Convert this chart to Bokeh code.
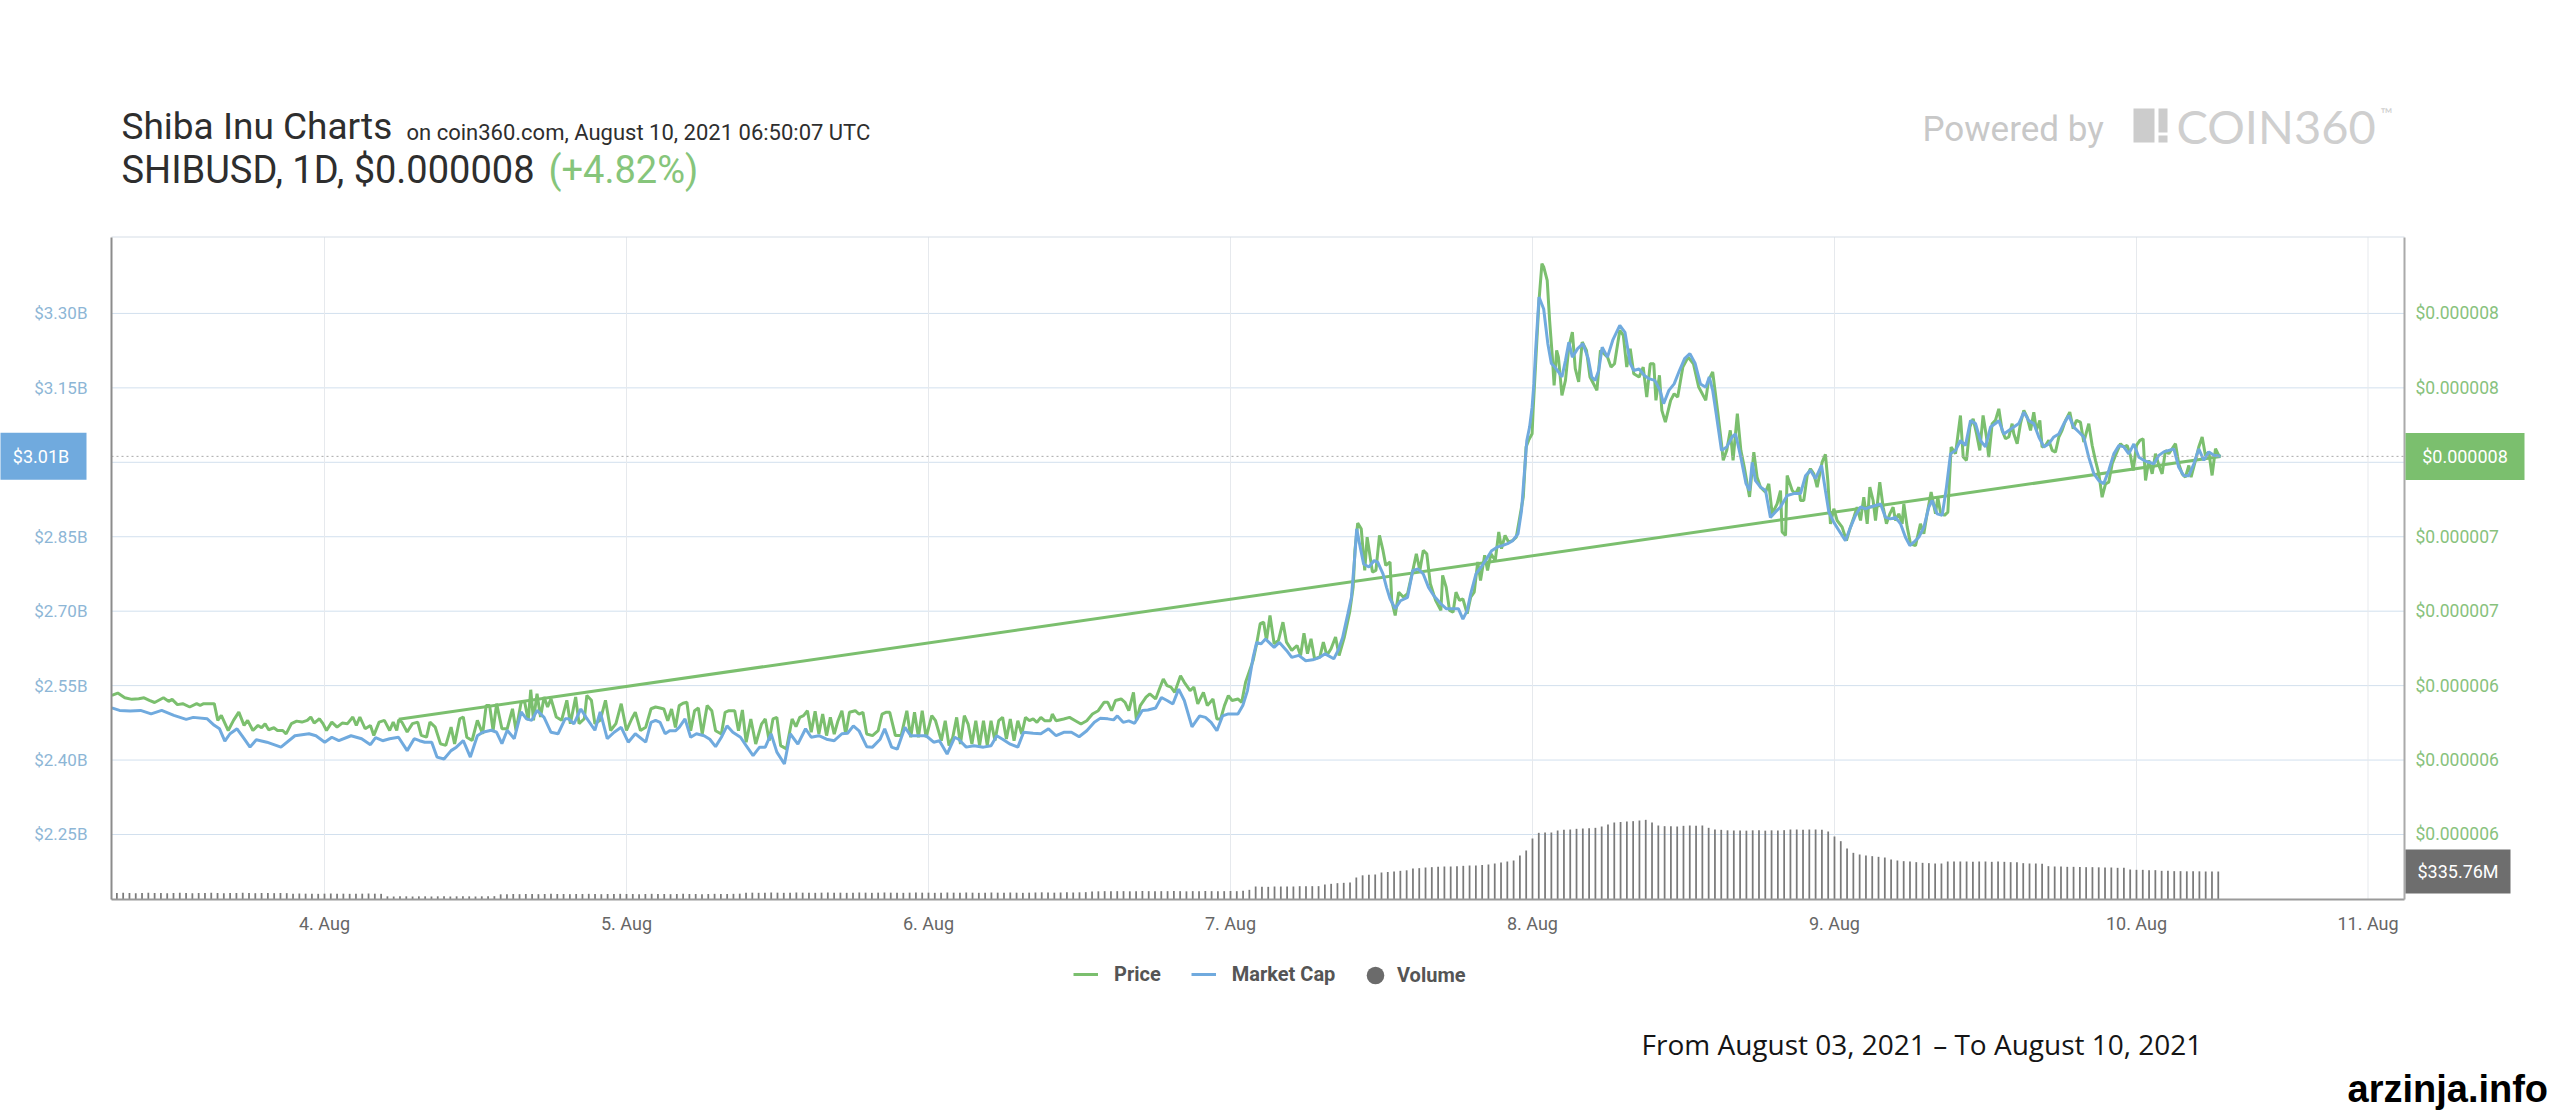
from bokeh.plotting import figure
from bokeh.models import (Range1d, LinearAxis, FixedTicker, CustomJSTickFormatter,
                          Label, Legend, LegendItem, BoxAnnotation, ColumnDataSource)
from bokeh.embed import file_html
from bokeh.resources import INLINE

# ---------------- data (hours since 2021-08-03 00:00 UTC) ----------------
price_points_musd = [  # (hour, price in micro-USD)
    (7.10, 6.409), (7.57, 6.421), (8.13, 6.397), (8.69, 6.389), (9.24, 6.392), (9.66, 6.397),
    (10.08, 6.384), (10.50, 6.373), (11.20, 6.397), (11.61, 6.379), (11.89, 6.389), (12.31, 6.362),
    (12.73, 6.367), (13.29, 6.350), (13.84, 6.367), (14.12, 6.358), (14.40, 6.367), (15.24, 6.367),
    (15.52, 6.282), (15.80, 6.307), (16.35, 6.230), (16.77, 6.282), (17.19, 6.324), (17.61, 6.256),
    (17.89, 6.282), (18.31, 6.230), (18.72, 6.256), (19.00, 6.244), (19.28, 6.265), (19.56, 6.234),
    (19.98, 6.244), (20.26, 6.230), (20.68, 6.230), (20.95, 6.213), (21.37, 6.265), (21.79, 6.278),
    (22.21, 6.273), (22.63, 6.282), (22.91, 6.299), (23.18, 6.268), (23.60, 6.290), (23.88, 6.265),
    (24.16, 6.230), (24.58, 6.273), (25.00, 6.247), (25.41, 6.268), (25.83, 6.265), (26.25, 6.299),
    (26.53, 6.256), (26.81, 6.299), (27.23, 6.239), (27.65, 6.256), (27.92, 6.205), (28.34, 6.273),
    (28.76, 6.282), (29.18, 6.230), (29.46, 6.273), (29.74, 6.230), (29.90, 6.285),
    (30.15, 6.273), (30.57, 6.222), (30.99, 6.265), (31.41, 6.273), (31.69, 6.205), (32.11, 6.196),
    (32.38, 6.273), (32.80, 6.247), (33.22, 6.162), (33.64, 6.154), (34.06, 6.247), (34.34, 6.162),
    (34.75, 6.290), (35.03, 6.299), (35.31, 6.196), (35.73, 6.179), (36.15, 6.282), (36.57, 6.213),
    (36.85, 6.358), (37.12, 6.358), (37.40, 6.230), (37.68, 6.367), (38.10, 6.239), (38.52, 6.239),
    (38.94, 6.341), (39.22, 6.230), (39.63, 6.375), (39.91, 6.375), (40.19, 6.282), (40.39, 6.438),
    (40.61, 6.282), (40.89, 6.418), (41.17, 6.299), (41.45, 6.401), (41.73, 6.350), (42.00, 6.392),
    (42.42, 6.299), (42.84, 6.282), (43.26, 6.384), (43.54, 6.265), (43.96, 6.401), (44.23, 6.265),
    (44.65, 6.290), (44.85, 6.409), (45.21, 6.384), (45.49, 6.265), (45.91, 6.282), (46.33, 6.384),
    (46.74, 6.230), (47.16, 6.265), (47.58, 6.367), (48.00, 6.230), (48.42, 6.290), (48.70, 6.324),
    (49.11, 6.230), (49.53, 6.247), (49.95, 6.341), (50.31, 6.350),
    (50.67, 6.345), (50.97, 6.340), (51.28, 6.280), (51.58, 6.340), (51.89, 6.246), (52.19, 6.357),
    (52.49, 6.369), (52.80, 6.374), (53.10, 6.229), (53.41, 6.331), (53.71, 6.345), (54.02, 6.212),
    (54.41, 6.357), (54.78, 6.331), (55.08, 6.229), (55.54, 6.212), (55.84, 6.323), (56.14, 6.331),
    (56.60, 6.331), (56.90, 6.229), (57.21, 6.335), (57.51, 6.170), (57.88, 6.289), (58.27, 6.161),
    (58.73, 6.263), (59.03, 6.289), (59.34, 6.178), (59.64, 6.289), (59.95, 6.297), (60.25, 6.153),
    (60.71, 6.136), (61.16, 6.289), (61.47, 6.250), (61.77, 6.297), (62.07, 6.306), (62.38, 6.331),
    (62.68, 6.221), (62.99, 6.328), (63.29, 6.212), (63.59, 6.314), (63.90, 6.204), (64.20, 6.297),
    (64.51, 6.212), (64.81, 6.280), (65.12, 6.331), (65.42, 6.212), (65.72, 6.323), (66.18, 6.331),
    (66.48, 6.314), (66.79, 6.323), (67.09, 6.212), (67.55, 6.204), (68.00, 6.229), (68.31, 6.314),
    (68.61, 6.323), (68.92, 6.323), (69.37, 6.204), (69.83, 6.204), (70.28, 6.331), (70.59, 6.195),
    (70.89, 6.323), (71.20, 6.195), (71.50, 6.331), (71.81, 6.195), (72.26, 6.306), (72.56, 6.280),
    (73.02, 6.178), (73.33, 6.280), (73.63, 6.153), (73.93, 6.195), (74.24, 6.297), (74.54, 6.161),
    (74.85, 6.306), (75.15, 6.263), (75.45, 6.161), (75.76, 6.280), (76.06, 6.153), (76.37, 6.280),
    (76.67, 6.153), (76.97, 6.280), (77.28, 6.178), (77.58, 6.280), (77.89, 6.297), (78.19, 6.187),
    (78.50, 6.289), (78.80, 6.178), (79.10, 6.280), (79.41, 6.212), (79.71, 6.297), (80.02, 6.280),
    (80.32, 6.289), (80.62, 6.272), (80.93, 6.297), (81.23, 6.280), (81.69, 6.280), (81.84, 6.314),
    (82.14, 6.280), (82.75, 6.289), (83.21, 6.297), (83.67, 6.280), (84.12, 6.263), (84.58, 6.280),
    (85.03, 6.314), (85.49, 6.331), (85.95, 6.374), (86.25, 6.374), (86.55, 6.331), (86.86, 6.383),
    (87.31, 6.391), (87.62, 6.374), (87.92, 6.331), (88.29, 6.425), (88.53, 6.280), (88.83, 6.357),
    (89.29, 6.400), (89.59, 6.417), (90.05, 6.391), (90.35, 6.442), (90.66, 6.493), (90.96, 6.459),
    (91.27, 6.451), (91.57, 6.425), (92.03, 6.510), (92.33, 6.476), (92.79, 6.434), (93.09, 6.451),
    (93.40, 6.366), (93.85, 6.425), (94.16, 6.357), (94.61, 6.391), (94.92, 6.289), (95.22, 6.289),
    (95.52, 6.357), (95.83, 6.408), (96.13, 6.383), (96.59, 6.391), (96.89, 6.374), (97.20, 6.476),
    (97.80, 6.588), (98.08, 6.673), (98.36, 6.775), (98.64, 6.783), (98.86, 6.690), (99.14, 6.817),
    (99.47, 6.673), (99.81, 6.690), (100.17, 6.783), (100.45, 6.681), (100.87, 6.639), (101.29, 6.664),
    (101.57, 6.613), (101.84, 6.727), (102.12, 6.622), (102.40, 6.698), (102.68, 6.596), (103.10, 6.605),
    (103.38, 6.681), (103.66, 6.613), (103.99, 6.647), (104.35, 6.707), (104.63, 6.613), (105.05, 6.707),
    (105.47, 6.834), (105.75, 6.962), (105.89, 7.149), (106.11, 7.289), (106.39, 7.260), (106.67, 7.047),
    (106.86, 7.217), (107.28, 7.039), (107.56, 7.047), (107.84, 7.226), (108.12, 7.149), (108.34, 7.073),
    (108.68, 7.090), (108.81, 6.894), (109.09, 6.817), (109.37, 6.936), (109.73, 6.911), (110.07, 6.928),
    (110.49, 7.047), (110.77, 7.132), (111.05, 7.047), (111.32, 7.149), (111.60, 7.132), (111.88, 6.979),
    (112.30, 6.894), (112.72, 6.843), (112.86, 7.022), (113.14, 6.962), (113.41, 6.843), (113.69, 6.834),
    (113.92, 6.936), (114.20, 6.894), (114.47, 6.902), (114.81, 6.826), (115.09, 6.911), (115.37, 6.936),
    (115.65, 7.090), (115.87, 6.996), (116.20, 7.124), (116.43, 7.047), (116.70, 7.132), (117.04, 7.098),
    (117.32, 7.243), (117.54, 7.158), (117.82, 7.226), (118.10, 7.192), (118.43, 7.200), (118.71, 7.217),
    (118.99, 7.319), (119.27, 7.422), (119.49, 7.677), (119.69, 7.711), (119.97, 7.745), (120.05, 7.864),
    (120.25, 8.102), (120.52, 8.426), (120.75, 8.613), (120.89, 8.596), (121.17, 8.528), (121.36, 8.324),
    (121.58, 8.136), (121.72, 7.992), (121.92, 8.170), (122.06, 8.136), (122.34, 7.941), (122.62, 8.017),
    (122.89, 8.187), (123.17, 8.264), (123.40, 8.077), (123.67, 8.009), (123.95, 8.213), (124.29, 8.170),
    (124.57, 8.034), (124.85, 8.000), (125.12, 7.966), (125.40, 8.170), (125.68, 8.153), (125.96, 8.136),
    (126.24, 8.085), (126.52, 8.102), (126.94, 8.273), (127.22, 8.247), (127.49, 8.085), (127.77, 8.179),
    (128.05, 8.051), (128.47, 8.034), (128.80, 8.085), (129.08, 7.932), (129.36, 8.102), (129.64, 8.102),
    (129.81, 7.915), (130.09, 8.043), (130.28, 7.864), (130.56, 7.804), (130.98, 7.915), (131.26, 7.949),
    (131.54, 7.932), (131.95, 8.085), (132.37, 8.136), (132.79, 8.102), (133.21, 7.983), (133.77, 7.915),
    (133.99, 8.017), (134.32, 8.060), (134.74, 7.847), (135.02, 7.694), (135.16, 7.609), (135.44, 7.660),
    (135.72, 7.762), (135.94, 7.609), (136.28, 7.847), (136.56, 7.660), (136.83, 7.575), (137.06, 7.490),
    (137.25, 7.422),
    (137.59, 7.651), (137.85, 7.523), (138.12, 7.472), (138.52, 7.447), (138.78, 7.489), (139.05, 7.336),
    (139.44, 7.387), (139.71, 7.455), (139.84, 7.243), (140.11, 7.226), (140.24, 7.532), (140.64, 7.455),
    (140.90, 7.438), (141.17, 7.472), (141.30, 7.404), (141.56, 7.404), (141.83, 7.532), (142.09, 7.566),
    (142.36, 7.540), (142.62, 7.472), (143.02, 7.600), (143.28, 7.639), (143.47, 7.506), (143.68, 7.285),
    (143.95, 7.362), (144.21, 7.302), (144.61, 7.268), (144.95, 7.200), (145.27, 7.268), (145.54, 7.319),
    (145.80, 7.370), (146.07, 7.302), (146.33, 7.421), (146.60, 7.285), (146.81, 7.472), (147.07, 7.404),
    (147.26, 7.302), (147.60, 7.498), (147.87, 7.370), (148.13, 7.285), (148.40, 7.336), (148.66, 7.370),
    (148.85, 7.302), (149.11, 7.336), (149.38, 7.285), (149.51, 7.387), (149.78, 7.268), (150.04, 7.183),
    (150.44, 7.174), (150.83, 7.285), (151.10, 7.234), (151.36, 7.336), (151.68, 7.447), (152.03, 7.336),
    (152.21, 7.421), (152.42, 7.345), (152.74, 7.328), (153.01, 7.345), (153.27, 7.677), (153.62, 7.643),
    (154.01, 7.838), (154.23, 7.626), (154.49, 7.609), (154.76, 7.779), (155.02, 7.821), (155.29, 7.745),
    (155.55, 7.660), (155.81, 7.838), (156.08, 7.728), (156.26, 7.626), (156.53, 7.796), (156.79, 7.813),
    (157.06, 7.872), (157.32, 7.762), (157.59, 7.719), (157.85, 7.728), (158.12, 7.796), (158.25, 7.745),
    (158.52, 7.694), (158.78, 7.796), (159.05, 7.864), (159.31, 7.830), (159.58, 7.762), (159.84, 7.855),
    (160.05, 7.762), (160.32, 7.813), (160.50, 7.677), (160.77, 7.685), (161.03, 7.711), (161.30, 7.660),
    (161.56, 7.651), (161.83, 7.728), (162.09, 7.762), (162.36, 7.813), (162.70, 7.855), (162.97, 7.770),
    (163.23, 7.813), (163.55, 7.804), (163.81, 7.702), (164.21, 7.796), (164.48, 7.685), (164.74, 7.609),
    (165.01, 7.540), (165.27, 7.421), (165.54, 7.489), (165.80, 7.498), (166.07, 7.592), (166.33, 7.634),
    (166.73, 7.694), (166.99, 7.677), (167.26, 7.685), (167.52, 7.634), (167.74, 7.557), (168.00, 7.685),
    (168.27, 7.711), (168.53, 7.719), (168.72, 7.506), (168.98, 7.609), (169.25, 7.540), (169.51, 7.643),
    (169.78, 7.583), (170.04, 7.540), (170.30, 7.660), (170.57, 7.643), (170.83, 7.668), (171.10, 7.694),
    (171.36, 7.592), (171.63, 7.540), (171.89, 7.523), (172.16, 7.583), (172.34, 7.523), (172.69, 7.609),
    (172.95, 7.677), (173.22, 7.728), (173.48, 7.634), (173.75, 7.651), (174.01, 7.532), (174.28, 7.668),
    (174.54, 7.634), (174.68, 7.629),
]

mcap_points_b = [  # (hour, market cap in billions USD)
    (7.10, 2.505), (7.71, 2.500), (8.55, 2.499), (9.38, 2.500), (10.22, 2.493), (11.06, 2.500),
    (12.03, 2.490), (13.01, 2.482), (13.57, 2.486), (14.68, 2.483), (15.24, 2.470), (15.66, 2.463),
    (16.08, 2.438), (16.49, 2.453), (17.05, 2.463), (17.61, 2.443), (18.08, 2.426), (18.58, 2.441),
    (19.42, 2.436), (20.54, 2.426), (21.65, 2.449), (22.77, 2.453), (23.32, 2.449), (24.02, 2.436),
    (24.58, 2.446), (25.14, 2.439), (26.11, 2.449), (26.95, 2.443), (27.65, 2.431), (28.06, 2.445),
    (28.62, 2.439), (29.18, 2.443), (29.88, 2.446), (30.57, 2.419), (31.13, 2.443), (31.55, 2.439),
    (31.97, 2.436), (32.52, 2.436), (32.94, 2.406), (33.50, 2.402), (34.06, 2.419), (34.48, 2.426),
    (35.03, 2.439), (35.59, 2.406), (36.15, 2.449), (36.57, 2.456), (37.26, 2.460), (37.68, 2.456),
    (38.10, 2.433), (38.52, 2.460), (39.08, 2.443), (39.63, 2.497), (40.05, 2.483), (40.47, 2.480),
    (40.89, 2.500), (41.45, 2.486), (42.00, 2.456), (42.56, 2.453), (43.12, 2.483), (43.40, 2.483),
    (43.82, 2.473), (44.37, 2.503), (44.79, 2.486), (45.49, 2.460), (45.91, 2.497), (46.47, 2.443),
    (47.02, 2.456), (47.58, 2.466), (48.14, 2.436), (48.70, 2.453), (49.53, 2.436), (49.95, 2.476),
    (50.31, 2.480),
    (50.67, 2.476), (51.07, 2.453), (51.43, 2.459), (51.89, 2.459), (52.19, 2.466), (52.65, 2.483),
    (53.10, 2.446), (53.56, 2.453), (54.17, 2.449), (54.62, 2.442), (55.08, 2.427), (55.54, 2.446),
    (55.99, 2.469), (56.45, 2.456), (57.06, 2.446), (57.51, 2.429), (58.06, 2.409), (58.58, 2.426),
    (59.03, 2.426), (59.49, 2.453), (59.95, 2.416), (60.55, 2.392), (61.01, 2.453), (61.62, 2.432),
    (62.23, 2.463), (62.68, 2.446), (63.29, 2.449), (63.90, 2.442), (64.51, 2.439), (65.12, 2.453),
    (65.57, 2.454), (66.03, 2.469), (66.48, 2.459), (67.09, 2.427), (67.55, 2.426), (68.16, 2.442),
    (68.52, 2.463), (69.07, 2.426), (69.52, 2.422), (70.13, 2.466), (70.59, 2.449), (71.20, 2.449),
    (71.81, 2.449), (72.41, 2.436), (72.87, 2.439), (73.48, 2.412), (74.09, 2.446), (74.39, 2.442),
    (75.00, 2.426), (75.61, 2.429), (76.37, 2.426), (76.97, 2.429), (77.43, 2.449), (77.89, 2.442),
    (78.50, 2.432), (79.10, 2.426), (79.56, 2.456), (80.32, 2.454), (80.93, 2.453), (81.54, 2.463),
    (82.14, 2.449), (82.75, 2.456), (83.36, 2.456), (83.97, 2.447), (84.58, 2.459), (85.18, 2.476),
    (85.64, 2.484), (86.25, 2.483), (86.71, 2.481), (87.01, 2.489), (87.47, 2.476), (87.92, 2.479),
    (88.38, 2.474), (88.99, 2.500), (89.44, 2.501), (90.05, 2.505), (90.51, 2.526), (90.96, 2.520),
    (91.42, 2.513), (91.88, 2.543), (92.33, 2.520), (92.94, 2.467), (93.55, 2.489), (94.01, 2.486),
    (94.46, 2.476), (94.92, 2.459), (95.37, 2.489), (95.83, 2.493), (96.29, 2.493), (96.59, 2.493),
    (96.98, 2.510), (97.35, 2.540),
    (97.80, 2.607), (98.08, 2.637), (98.42, 2.634), (98.78, 2.644), (99.06, 2.637), (99.47, 2.627),
    (99.89, 2.637), (100.45, 2.621), (100.87, 2.607), (101.43, 2.611), (101.98, 2.600), (102.54, 2.602),
    (103.10, 2.607), (103.52, 2.614), (104.21, 2.604), (104.55, 2.621), (104.91, 2.647), (105.33, 2.695),
    (105.61, 2.728), (105.89, 2.815), (106.03, 2.866), (106.31, 2.829), (106.58, 2.795), (107.00, 2.789),
    (107.42, 2.802), (107.70, 2.799), (108.12, 2.775), (108.40, 2.748), (108.68, 2.725), (109.09, 2.705),
    (109.51, 2.721), (110.07, 2.728), (110.49, 2.782), (110.91, 2.785), (111.32, 2.775), (111.74, 2.748),
    (112.16, 2.731), (112.72, 2.715), (113.14, 2.705), (113.69, 2.705), (114.11, 2.705), (114.47, 2.684),
    (114.81, 2.701), (115.09, 2.735), (115.51, 2.775), (115.92, 2.789), (116.34, 2.805), (116.76, 2.822),
    (117.18, 2.829), (117.60, 2.832), (118.02, 2.836), (118.43, 2.842), (118.85, 2.856), (119.13, 2.903),
    (119.41, 2.997), (119.55, 3.044), (119.77, 3.071), (119.97, 3.111), (120.11, 3.158), (120.25, 3.225),
    (120.52, 3.333), (120.89, 3.309), (121.22, 3.239), (121.50, 3.199), (121.78, 3.192), (122.06, 3.182),
    (122.34, 3.172), (122.62, 3.205), (122.89, 3.242), (123.17, 3.212), (123.59, 3.229), (124.01, 3.239),
    (124.43, 3.209), (124.71, 3.172), (124.98, 3.165), (125.26, 3.185), (125.54, 3.232), (125.96, 3.212),
    (126.38, 3.246), (126.94, 3.276), (127.35, 3.262), (127.77, 3.199), (128.05, 3.185), (128.47, 3.188),
    (128.89, 3.175), (129.31, 3.168), (129.72, 3.165), (130.14, 3.145), (130.42, 3.118), (130.84, 3.145),
    (131.26, 3.158), (131.68, 3.185), (132.09, 3.209), (132.51, 3.219), (132.93, 3.199), (133.35, 3.158),
    (133.77, 3.151), (134.05, 3.172), (134.32, 3.145), (134.60, 3.098), (135.02, 3.024), (135.44, 3.031),
    (135.86, 3.051), (136.14, 3.057), (136.56, 3.010), (136.97, 2.957), (137.25, 2.943),
    (137.46, 3.000), (137.72, 2.963), (138.12, 2.950), (138.52, 2.943), (138.91, 2.889), (139.31, 2.900),
    (139.71, 2.910), (140.24, 2.933), (140.77, 2.937), (141.30, 2.937), (141.70, 2.973), (142.09, 2.984),
    (142.49, 2.967), (142.97, 2.994), (143.28, 2.943), (143.55, 2.900), (143.95, 2.879), (144.34, 2.863),
    (144.87, 2.842), (145.27, 2.869), (145.67, 2.893), (146.07, 2.910), (146.46, 2.906), (146.86, 2.910),
    (147.26, 2.913), (147.66, 2.916), (148.05, 2.889), (148.45, 2.886), (148.85, 2.889), (149.25, 2.876),
    (149.64, 2.849), (149.99, 2.832), (150.30, 2.839), (150.70, 2.849), (151.10, 2.869), (151.50, 2.910),
    (151.76, 2.923), (152.16, 2.896), (152.56, 2.893), (152.90, 2.950), (153.22, 3.017), (153.62, 3.024),
    (154.01, 3.044), (154.41, 3.034), (154.81, 3.084), (155.21, 3.078), (155.60, 3.044), (156.00, 3.031),
    (156.40, 3.071), (156.79, 3.078), (157.06, 3.084), (157.46, 3.057), (157.85, 3.064), (158.25, 3.071),
    (158.65, 3.078), (159.05, 3.101), (159.44, 3.084), (159.84, 3.078), (160.24, 3.051), (160.64, 3.031),
    (161.03, 3.037), (161.43, 3.051), (161.83, 3.057), (162.23, 3.078), (162.62, 3.094), (163.02, 3.071),
    (163.42, 3.061), (163.81, 3.051), (164.21, 3.010), (164.61, 2.977), (165.01, 2.963), (165.40, 2.957),
    (165.80, 2.984), (166.20, 3.017), (166.60, 3.034), (166.99, 3.031), (167.39, 3.017), (167.79, 3.037),
    (168.19, 3.010), (168.58, 3.004), (168.98, 3.000), (169.38, 2.997), (169.78, 3.014), (170.17, 3.021),
    (170.57, 3.024), (170.97, 3.027), (171.36, 2.990), (171.76, 2.973), (172.16, 2.973), (172.56, 2.997),
    (172.95, 3.027), (173.35, 3.004), (173.75, 3.021), (174.15, 3.014), (174.68, 3.012),
]

trend_points_musd = [(29.90, 6.287), (174.68, 7.629)]

# half-hourly volume in millions USD, first bar at 07:30 on Aug 3
VOL_START_H = 7.5
VOL_STEP_H = 0.5
volume_musd = [
    78, 80, 78, 76, 78, 80, 78, 78, 76, 78, 80, 78, 76, 78, 78, 80, 78, 76, 78, 78, 80, 78, 76, 78, 78, 76, 78, 76,
    70, 72, 70, 70, 68, 70, 72, 70, 70, 68, 70, 70, 72, 70, 68,
    38, 36, 38, 38, 36, 38, 38, 36, 38, 38, 36, 38, 38, 38, 36, 38, 38, 40,
    62, 64, 66, 64, 66, 66, 64, 66, 68, 66, 66, 64, 66, 66, 68, 66, 64, 66, 66, 68,
    66, 66, 64, 66, 68, 66, 66, 64, 66, 68, 66, 66, 64, 66, 68, 66, 66, 68, 70,
    80, 82, 80, 82, 84, 82, 80, 82, 84, 82, 82, 80, 82, 84, 82, 82, 80, 82, 84, 82,
    80, 82, 84, 82, 82, 80, 82, 84, 82, 82, 80, 82, 84, 82, 82, 84, 82, 80, 82, 84,
    82, 82, 84, 82, 80, 82, 84, 86, 84, 82, 84, 86, 84, 86, 88,
    96, 98, 100, 98, 100, 100, 98, 100, 102, 100, 98, 100, 100, 102, 100, 98, 100, 100, 102, 100,
    98, 100, 102, 100, 104,
    116, 156, 152, 152, 156, 156, 156, 156, 160, 160, 160, 160,
    180, 188, 196, 200, 205, 264, 290, 296, 300,
    324, 330, 336, 344, 350, 372, 376, 384, 388, 392, 396,
    396, 400, 404, 408, 408, 414, 420, 432, 444, 456,
    468, 528, 588, 732, 800, 804, 804,
    828, 836, 840, 848, 852, 856, 860,
    876, 900, 924, 930, 936, 940, 948, 956, 924,
    888, 880, 880, 876, 884, 888, 884, 888,
    860, 840, 836, 830, 828, 828, 826, 830, 830, 826, 830, 828, 832,
    840, 840, 836, 840, 840, 836, 816, 756, 700, 612,
    560, 540, 528, 520, 512, 504,
    480, 468, 460, 456, 448, 440, 436, 432, 432,
    456, 456, 456, 456, 452, 456, 456, 452, 456, 452, 448, 448,
    436, 432, 432, 430,
    400, 396, 396, 392, 392, 390, 388, 388, 386, 384, 384, 380, 380,
    360, 356, 356, 352, 352,
    344, 344, 340, 340, 338, 338, 338, 336, 336, 335.76,
]

x_tick_hours = [24, 48, 72, 96, 120, 144, 168, 186.4]
x_tick_labels = ["4. Aug", "5. Aug", "6. Aug", "7. Aug", "8. Aug", "9. Aug", "10. Aug", "11. Aug"]
mcap_ticks_b = [2.25, 2.40, 2.55, 2.70, 2.85, 3.00, 3.15, 3.30]
MUSD_PER_B = 2.533  # micro-USD of price per billion USD of market cap (1 / supply)

# ---------------- layout geometry (canvas pixels) ----------------
W, H = 2560, 1112
X0, X1 = 7.073, 189.30          # chart area, hours
Y0, Y1 = 2.119, 3.454           # chart area, $B
PX_PER_H = 2293 / (X1 - X0)
PX_PER_B = 662.5 / (Y1 - Y0)
L_PAD, R_PAD, T_PAD, B_PAD = 111, 156, 236.5, 213
XR = (X0 - L_PAD / PX_PER_H, X1 + R_PAD / PX_PER_H)
YR = (Y0 - B_PAD / PX_PER_B, Y1 + T_PAD / PX_PER_B)
VOL_PER_PX = 12.0
VR = (-B_PAD * VOL_PER_PX, (662.5 + T_PAD) * VOL_PER_PX)
K = MUSD_PER_B * 1e-6

GREEN = "#7bbf6e"
BLUE = "#70aade"
FONT = "Roboto"

price_h = [a for a, _ in price_points_musd]
price_usd = [b * 1e-6 for _, b in price_points_musd]
mcap_h = [a for a, _ in mcap_points_b]
mcap_b = [b for _, b in mcap_points_b]
vol_h = [VOL_START_H + VOL_STEP_H * i for i in range(len(volume_musd))]

p = figure(width=W, height=H, x_range=Range1d(*XR), y_range=Range1d(*YR),
           x_axis_type=None, y_axis_type=None,
           output_backend="svg", toolbar_location=None,
           min_border=0, background_fill_color="white", border_fill_color="white",
           outline_line_color=None)
p.extra_y_ranges = {"price": Range1d(YR[0] * K, YR[1] * K), "vol": Range1d(*VR)}

# grid lines (chart area only)
p.segment(x0=X0, x1=X1, y0=mcap_ticks_b, y1=mcap_ticks_b, line_color="#d2e0ee", line_width=1)
p.segment(x0=x_tick_hours, x1=x_tick_hours, y0=Y0, y1=Y1, line_color="#e6e9ed", line_width=1)
p.segment(x0=[X0], x1=[X1], y0=[Y1], y1=[Y1], line_color="#d5dde6", line_width=1)

# axes, pinned to the chart area edges
xa = LinearAxis(fixed_location=Y0, bounds=(X0, X1), ticker=FixedTicker(ticks=x_tick_hours))
xa.major_label_overrides = dict(zip(x_tick_hours, x_tick_labels))
xa.axis_line_color = "#9a9a9a"
xa.axis_line_width = 2
xa.major_tick_line_color = None
xa.minor_tick_line_color = None
xa.major_tick_out = 0
xa.major_tick_in = 0
xa.major_label_standoff = 13
xa.major_label_text_font = FONT
xa.major_label_text_font_size = "18px"
xa.major_label_text_color = "#666666"
p.add_layout(xa, "below")

mcap_last = mcap_b[-1]
ya = LinearAxis(fixed_location=X0, bounds=(Y0, Y1), ticker=FixedTicker(ticks=mcap_ticks_b),
                formatter=CustomJSTickFormatter(args=dict(last=mcap_last), code="""
    if (Math.abs(tick - last) < 0.05) { return ""; }
    return "$" + tick.toFixed(2) + "B";
"""))
ya.axis_line_color = "#8c8c8c"
ya.axis_line_width = 2
ya.major_tick_line_color = None
ya.minor_tick_line_color = None
ya.major_tick_out = 0
ya.major_tick_in = 0
ya.major_label_standoff = 24
ya.major_label_text_font = FONT
ya.major_label_text_font_size = "17px"
ya.major_label_text_color = "#8db6d6"
p.add_layout(ya, "left")

price_last = price_usd[-1]
ra = LinearAxis(y_range_name="price", fixed_location=X1, bounds=(Y0 * K, Y1 * K),
                ticker=FixedTicker(ticks=[t * K for t in mcap_ticks_b]),
                formatter=CustomJSTickFormatter(args=dict(last=price_last, step=0.05 * K), code="""
    if (Math.abs(tick - last) < step) { return ""; }
    return "$" + tick.toFixed(6);
"""))
ra.axis_line_color = "#aaaaaa"
ra.axis_line_width = 2
ra.major_tick_line_color = None
ra.minor_tick_line_color = None
ra.major_tick_out = 0
ra.major_tick_in = 0
ra.major_label_standoff = 11
ra.major_label_text_font = FONT
ra.major_label_text_font_size = "17.5px"
ra.major_label_text_color = "#88c27d"
p.add_layout(ra, "right")

# volume bars
vsrc = ColumnDataSource(dict(x=vol_h, top=volume_musd))
p.vbar(x="x", top="top", bottom=0, width=0.14, source=vsrc, y_range_name="vol",
       fill_color="#7a7a7a", line_color=None)

# lines
psrc = ColumnDataSource(dict(x=price_h, y=price_usd))
r_price = p.line("x", "y", source=psrc, y_range_name="price", line_color=GREEN, line_width=3)
p.line([a for a, _ in trend_points_musd], [b * 1e-6 for _, b in trend_points_musd],
       y_range_name="price", line_color=GREEN, line_width=3)
msrc = ColumnDataSource(dict(x=mcap_h, y=mcap_b))
r_mcap = p.line("x", "y", source=msrc, line_color=BLUE, line_width=3)
# legend key for volume (hidden marker at the last volume value)
r_vol_key = p.scatter(x=[vol_h[-1]], y=[volume_musd[-1]], y_range_name="vol", marker="circle",
                      size=17, fill_color="#6b6b6b", line_color=None, visible=False)

# current value line
p.segment(x0=[X0], x1=[X1], y0=[mcap_last], y1=[mcap_last], line_color="#a8a8a8",
          line_dash="2 3", line_width=1)

# value tags: box + text
def add_tag(left, right, yval, half_h, text, fill, range_name="default"):
    box = BoxAnnotation(left=left, right=right, top=yval + half_h, bottom=yval - half_h,
                        left_units="screen", right_units="screen",
                        fill_color=fill, fill_alpha=1.0, line_color=None)
    lab = Label(x=(left + right) / 2, y=yval, x_units="screen", y_units="data", text=text,
                text_align="center", text_baseline="middle", text_color="white",
                text_font=FONT, text_font_size="18px")
    if range_name != "default":
        box.y_range_name = range_name
        lab.y_range_name = range_name
    p.add_layout(box)
    p.add_layout(lab)

add_tag(-5, 86, mcap_last, 23.5 / PX_PER_B, f"${mcap_last:.2f}B", BLUE)
add_tag(2405, 2524, price_last, 23.5 / PX_PER_B * K, f"${price_last:.6f}", GREEN, "price")
add_tag(2405, 2510, volume_musd[-1], 22 * VOL_PER_PX, f"${volume_musd[-1]:.2f}M", "#6e6e6e", "vol")

# legends
legend_style = dict(orientation="horizontal", padding=0, margin=0, background_fill_alpha=0,
                    border_line_color=None, inactive_fill_alpha=0.0,
                    label_text_font=FONT, label_text_font_size="20px",
                    label_text_font_style="bold", label_text_color="#555555")
p.add_layout(Legend(items=[LegendItem(label="Price", renderers=[r_price]),
                           LegendItem(label="Market Cap", renderers=[r_mcap])],
                    location=(1073, 126), glyph_width=25, glyph_height=20,
                    label_standoff=16, spacing=30, **legend_style))
p.add_layout(Legend(items=[LegendItem(label="Volume", renderers=[r_vol_key])],
                    location=(1353, 115), glyph_width=44, glyph_height=44,
                    label_standoff=0, spacing=0, **legend_style))

# header / footer texts (screen px from the canvas bottom-left, vertical centre)
def add_text(x, y, text, size, color, font=FONT, style="normal", align="left"):
    p.add_layout(Label(x=x, y=y, x_units="screen", y_units="screen", text=text,
                       text_font=font, text_font_size=size, text_color=color,
                       text_font_style=style, text_align=align, text_baseline="middle"))

add_text(121, 986, "Shiba Inu Charts", "37px", "#2e2e2e")
add_text(406, 980, "on coin360.com, August 10, 2021 06:50:07 UTC", "22px", "#2e2e2e")
add_text(121, 943, "SHIBUSD, 1D, $0.000008", "38px", "#2e2e2e")
add_text(548, 943, "(+4.82%)", "38px", "#86c57b")
add_text(1922, 983, "Powered by", "35px", "#c8c8c8")
add_text(2176, 987, "COIN360", "47px", "#cfcfcf", font="Lato")
add_text(2380, 999, "\u2122", "16px", "#cfcfcf", font="Lato")
add_text(1641, 69, "From August 03, 2021 \u2013 To August 10, 2021", "28px", "#151515", font="Open Sans")
add_text(2347, 24, "arzinja.info", "38px", "#000000", font="Liberation Sans", style="bold")

# logo blocks
for l, r, t, b in [(2133, 2154, 1004, 970), (2158, 2167, 1004, 980), (2158, 2167, 977, 970)]:
    p.add_layout(BoxAnnotation(left=l, right=r, top=t, bottom=b,
                               left_units="screen", right_units="screen",
                               top_units="screen", bottom_units="screen",
                               fill_color="#cccccc", fill_alpha=1.0, line_color=None))

open("out.html", "w").write(file_html(p, INLINE))
